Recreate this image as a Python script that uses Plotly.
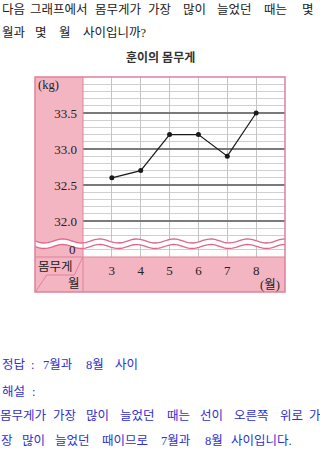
import numpy as np
import plotly.graph_objects as go

W, H = 320, 449

# ---- data ----
months = [3, 4, 5, 6, 7, 8]
weights = [32.6, 32.7, 33.2, 33.2, 32.9, 33.5]
y_tickvals = [32.0, 32.5, 33.0, 33.5]
y_ticktext = ["32.0", "32.5", "33.0", "33.5"]
zero_pos = 31.6
zero_label = "0"
title_text = "훈이의 몸무게"

question_lines = [
    (10, [("다음", 2, 25), ("그래프에서", 33, 85), ("몸무게가", 97, 140), ("가장", 148, 172),
          ("많이", 182, 207), ("늘었던", 215, 253), ("때는", 263, 287), ("몇", 298, 317)]),
    (33, [("월과", 2, 25), ("몇", 33, 48), ("월", 58, 72), ("사이입니까?", 82, 147)]),
]
answer_lines = [
    (365, [("정답", 2, 25), (":", 30, 34), ("7월과", 40, 75), ("8월", 82, 107), ("사이", 115, 138)]),
    (392, [("해설", 2, 25), (":", 31, 35)]),
    (416, [("몸무게가", 2, 45), ("가장", 53, 77), ("많이", 85, 110), ("늘었던", 118, 157),
           ("때는", 167, 190), ("선이", 200, 223), ("오른쪽", 233, 270), ("위로", 280, 302),
           ("가", 309, 320)]),
    (441, [("장", 2, 12), ("많이", 22, 45), ("늘었던", 53, 92), ("때이므로", 100, 150),
           ("7월과", 158, 193), ("8월", 200, 227), ("사이입니다.", 233, 290)]),
]

PINK = "#f4b5c2"
PINK_LINE = "#e0809a"
WAVE = "#e0668a"
FONT = "Liberation Serif, Noto Sans CJK KR"


def px(x, y):
    return x / W, 1 - y / H


L, R, T, B, BB = 35, 285, 77, 257, 292   # chart box in pixels
PL = 83                                   # plot-area left

fig = go.Figure()
fig.add_trace(go.Scatter(
    x=months, y=weights, mode="lines+markers",
    line=dict(color="#1a1a1a", width=1.2),
    marker=dict(color="#1a1a1a", size=5),
    hoverinfo="skip", showlegend=False,
))

shapes = []


def rect(x0, y0, x1, y1, fill, line=None, width=0, layer="below"):
    a, b = px(x0, y0)
    c, d = px(x1, y1)
    shapes.append(dict(type="rect", xref="paper", yref="paper", x0=a, y0=d, x1=c, y1=b,
                       fillcolor=fill, line=dict(color=line or fill, width=width), layer=layer))


def seg(pts, color, width, layer="above"):
    path = "M " + " L ".join(f"{px(x, y)[0]:.5f},{px(x, y)[1]:.5f}" for x, y in pts)
    shapes.append(dict(type="path", xref="paper", yref="paper", path=path,
                       line=dict(color=color, width=width), fillcolor="rgba(0,0,0,0)", layer=layer))


# pink panels
rect(L, T, PL, B, PINK)
rect(L, B, R, BB, PINK)

# wave break
xs = np.linspace(L, R, 120)
top = 241 + 2.0 * np.sin(2 * np.pi * (xs - L) / 37)
bot = 246.5 + 2.0 * np.sin(2 * np.pi * (xs - L) / 37)
poly = list(zip(xs, top)) + list(zip(xs[::-1], bot[::-1]))
path = "M " + " L ".join(f"{px(x, y)[0]:.5f},{px(x, y)[1]:.5f}" for x, y in poly) + " Z"
shapes.append(dict(type="path", xref="paper", yref="paper", path=path,
                   fillcolor="white", line=dict(width=0), layer="above"))
seg(list(zip(xs, top)), WAVE, 1.3)
seg(list(zip(xs, bot)), WAVE, 1.3)

# borders
seg([(PL, T), (PL, BB)], PINK_LINE, 1)
seg([(L, B), (R, B)], PINK_LINE, 1)
rect(L, T, R, BB, "rgba(0,0,0,0)", PINK_LINE, 1.5, layer="above")
# header separator
seg([(82.3, 258), (74.3, 275), (46.7, 275), (36, 291)], PINK_LINE, 1)

annotations = []


def text(t, x, y, size=12.5, color="#222", anchor="left", weight="normal"):
    a, b = px(x, y)
    annotations.append(dict(text=t, x=a, y=b, xref="paper", yref="paper", xanchor=anchor,
                            yanchor="middle", showarrow=False, borderpad=0,
                            font=dict(family=FONT, size=size, color=color, weight=weight)))


for yy, words in question_lines:
    for w, x0, x1 in words:
        text(w, (x0 + x1) / 2, yy, size=12.5, color="#222", anchor="center")
for yy, words in answer_lines:
    for w, x0, x1 in words:
        text(w, (x0 + x1) / 2, yy, size=12.5, color="#2f2fd2", anchor="center")

text(title_text, 160, 58, size=12, color="#333", anchor="center", weight="bold")
text("(kg)", 37, 85, size=12.5)
text("몸무게", 37, 267, size=12.5)
text("월", 67, 284, size=12.5)
text("(월)", 270, 285, size=12.5, anchor="center")
# zero label on the broken axis
annotations.append(dict(text=zero_label, x=(PL - 5) / W, y=zero_pos, xref="paper", yref="y",
                        xanchor="right", yanchor="middle", showarrow=False,
                        font=dict(family=FONT, size=13, color="#222")))

fig.update_layout(
    width=W, height=H, autosize=False,
    margin=dict(l=0, r=0, t=0, b=0),
    paper_bgcolor="white", plot_bgcolor="rgba(0,0,0,0)",
    shapes=shapes, annotations=annotations, showlegend=False,
    xaxis=dict(domain=[PL / W, R / W], range=[2, 9], tickvals=months,
               ticktext=[str(m) for m in months], showgrid=True, gridcolor="#c4c4c4",
               gridwidth=1, zeroline=False, showline=False, ticks="",
               tickfont=dict(family=FONT, size=13, color="#222"), ticklabelstandoff=4,
               fixedrange=True),
    yaxis=dict(domain=[1 - B / H, 1 - T / H], range=[31.5, 34.0], tickvals=y_tickvals,
               ticktext=y_ticktext, showgrid=True, gridcolor="#7a7a7a", gridwidth=1.6,
               zeroline=False, showline=False, ticks="",
               tickfont=dict(family=FONT, size=13, color="#222"), ticklabelstandoff=5,
               minor=dict(dtick=0.1, tick0=31.5, showgrid=True, gridcolor="#cfcfcf", gridwidth=1),
               fixedrange=True),
)

fig.write_html("out.html")
